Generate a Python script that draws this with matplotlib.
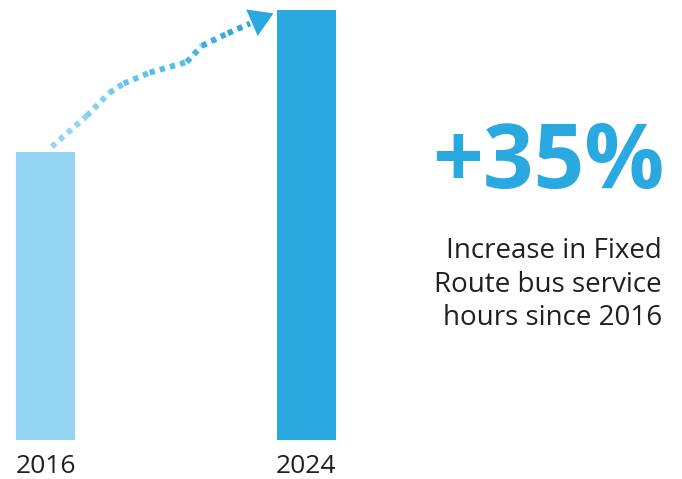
import matplotlib.pyplot as plt
import matplotlib as mplt
import numpy as np
from matplotlib.collections import LineCollection
from matplotlib.colors import to_rgb

mplt.rcParams['font.family'] = ['Open Sans', 'DejaVu Sans']

# data (index, 2016 = 100)
years = ['2016', '2024']
hours_index = [100, 135]
bar_colors = ['#93d5f3', '#29a9e0']

# dotted arrow waypoints (x in category units, y in index units)
arrow_x = [0.024, 0.158, 0.245, 0.30, 0.40, 0.542, 0.600, 0.70, 0.785]
arrow_y = [101.3, 108.9, 114.6, 116.9, 119.6, 122.2, 126.2, 129.3, 131.7]
arrow_tip = (0.875, 134.2)

fig = plt.figure(figsize=(6.82, 4.79), dpi=100)
ax = fig.add_axes([0, 39 / 479, 1, 440 / 479])

x = np.arange(len(years))
ax.bar(x, hours_index, width=0.2265, bottom=0, color=bar_colors)
ax.set_xlim(-0.1747, 2.443)
ax.set_ylim(29, 137.5)

for s in ax.spines.values():
    s.set_visible(False)
ax.set_yticks([])
ax.set_xticks(x)
ax.set_xticklabels(years, fontsize=19, color='#231f20')
ax.tick_params(axis='x', length=0, pad=10)

# gradient dotted line
pts = np.column_stack([arrow_x, arrow_y])
segs = np.stack([pts[:-1], pts[1:]], axis=1)
c0, c1 = np.array(to_rgb('#93d5f3')), np.array(to_rgb('#29a9e0'))
t = np.linspace(0, 1, len(segs))
cols = [tuple(c0 + (c1 - c0) * k) for k in t]
lc = LineCollection(segs, colors=cols, linewidths=4.2, linestyles=[(0, (0.9, 0.9))],
                    capstyle='butt')
ax.add_collection(lc)

ax.annotate('', xy=arrow_tip, xytext=(arrow_x[-1], arrow_y[-1]),
            arrowprops=dict(arrowstyle='-|>,head_length=0.65,head_width=0.4',
                            color='#29a9e0', lw=0, shrinkA=0, shrinkB=0,
                            mutation_scale=26))

# callout text
fig.text(664 / 682, 1 - 188 / 479, '+35%', ha='right', va='baseline',
         fontsize=64, fontweight='bold', color='#29a9e0')
for i, line in enumerate(['Increase in Fixed', 'Route bus service', 'hours since 2016']):
    fig.text(662 / 682, 1 - (258.5 + 33.3 * i) / 479, line, ha='right',
             va='baseline', fontsize=20, color='#231f20')

fig.savefig('out.png', dpi=100, facecolor='white')
